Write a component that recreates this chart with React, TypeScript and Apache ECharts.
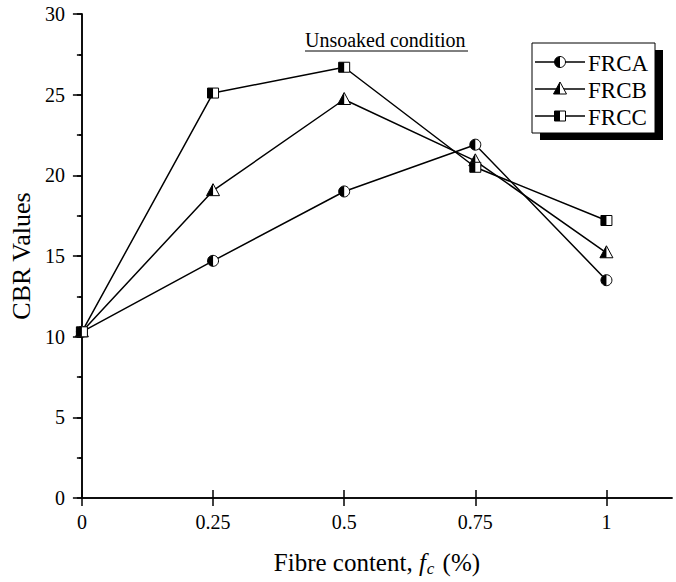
import React, { useEffect, useRef } from "react";
import * as echarts from "echarts";

const fibreContent = [0, 0.25, 0.5, 0.75, 1];
const frcaValues = [10.3, 14.7, 19.0, 21.9, 13.5];
const frcbValues = [10.3, 19.05, 24.7, 20.9, 15.2];
const frccValues = [10.3, 25.1, 26.7, 20.5, 17.2];
const xTickValues = [0, 0.25, 0.5, 0.75, 1];
const seriesNames = ["FRCA", "FRCB", "FRCC"];

const FONT = "Liberation Serif";

function markerShapes(kind: string, z?: number): any[] {
  let shapes: any[];
  if (kind === "circle") {
    shapes = [
      { type: "circle", shape: { cx: 0, cy: 0, r: 5.5 }, style: { fill: "#fff", stroke: "#000", lineWidth: 1 } },
      {
        type: "sector",
        shape: { cx: 0, cy: 0, r0: 0, r: 5.5, startAngle: Math.PI / 2, endAngle: Math.PI * 1.5, clockwise: true },
        style: { fill: "#000" },
      },
    ];
  } else if (kind === "triangle") {
    shapes = [
      {
        type: "polygon",
        shape: { points: [[0, -7], [-6.5, 5], [6.5, 5]] },
        style: { fill: "#fff", stroke: "#000", lineWidth: 1 },
      },
      { type: "polygon", shape: { points: [[0, -7], [-6.5, 5], [0, 5]] }, style: { fill: "#000" } },
    ];
  } else {
    shapes = [
      { type: "rect", shape: { x: -5.5, y: -5, width: 11, height: 10 }, style: { fill: "#fff", stroke: "#000", lineWidth: 1 } },
      { type: "rect", shape: { x: -5.5, y: -5, width: 5.5, height: 10 }, style: { fill: "#000" } },
    ];
  }
  if (z !== undefined) shapes = shapes.map((s, k) => ({ ...s, z: z + k }));
  return shapes;
}

const kinds = ["circle", "triangle", "square"];
const allValues = [frcaValues, frcbValues, frccValues];

export default function App() {
  const ref = useRef<HTMLDivElement>(null);
  useEffect(() => {
    if (!ref.current) return;
    const chart = echarts.init(ref.current, null, { renderer: "svg" });

    const lineSeries = allValues.map((vals, i) => ({
      name: seriesNames[i],
      type: "line",
      data: fibreContent.map((x, j) => [x, vals[j]]),
      symbol: "none",
      lineStyle: { color: "#000", width: 1.5 },
      z: 2,
    }));
    const markerSeries = allValues.map((vals, i) => ({
      name: seriesNames[i] + " markers",
      type: "custom",
      data: fibreContent.map((x, j) => [x, vals[j]]),
      encode: { x: 0, y: 1 },
      z: 3 + i,
      renderItem: (params: any, api: any) => {
        const p = api.coord([api.value(0), api.value(1)]);
        return { type: "group", x: p[0], y: p[1], children: markerShapes(kinds[i]) };
      },
    }));

    const legendX = 532;
    const legendY = 43;
    const legendRows = [62, 89, 116];
    const legendItems: any[] = [];
    seriesNames.forEach((name, i) => {
      legendItems.push({
        type: "line",
        shape: { x1: 535, y1: legendRows[i], x2: 585, y2: legendRows[i] },
        style: { stroke: "#000", lineWidth: 1.5 },
        z: 101,
      });
      markerShapes(kinds[i], 102).forEach((s) => {
        legendItems.push({ ...s, x: 560, y: legendRows[i] });
      });
      legendItems.push({
        type: "text",
        x: 588,
        y: legendRows[i] + 1,
        style: { text: name, font: `23px "${FONT}"`, fill: "#000", verticalAlign: "middle", textAlign: "left" },
        z: 102,
      });
    });

    const axisCommonLine = { show: true, lineStyle: { color: "#000", width: 1.5 } };

    chart.setOption({
      animation: false,
      textStyle: { fontFamily: FONT, color: "#000" },
      title: {
        text: "Unsoaked condition",
        left: 305,
        top: 30,
        textStyle: { fontFamily: FONT, fontSize: 20, fontWeight: "normal", color: "#000" },
        padding: 0,
      },
      grid: { left: 73, right: 4, top: 14, bottom: 80, containLabel: false },
      xAxis: [
        {
          type: "value",
          position: "bottom",
          min: 0,
          max: 1.125,
          interval: 0.25,
          axisLine: axisCommonLine,
          axisTick: { show: true, length: 8, customValues: xTickValues, lineStyle: { color: "#000", width: 1.5 } },
          axisLabel: { customValues: xTickValues, fontSize: 20, fontFamily: FONT, color: "#000", margin: 14 },
          splitLine: { show: false },
          name: "{n|Fibre content, }{i|f}{s|c}{n| (%)}",
          nameLocation: "middle",
          nameGap: 50,
          nameTextStyle: {
            rich: {
              n: { fontFamily: FONT, fontSize: 25, color: "#000" },
              i: { fontFamily: FONT, fontSize: 25, fontStyle: "italic", color: "#000" },
              s: { fontFamily: FONT, fontSize: 17, fontStyle: "italic", color: "#000", padding: [12, 2, 0, 1] },
            },
          },
        },
        {
          type: "value",
          position: "top",
          min: 0,
          max: 1.125,
          interval: 0.25,
          axisLine: axisCommonLine,
          axisTick: { show: true, length: 8, customValues: xTickValues, lineStyle: { color: "#000", width: 1.5 } },
          axisLabel: { show: false },
          splitLine: { show: false },
        },
      ],
      yAxis: [
        {
          type: "value",
          position: "left",
          min: 0,
          max: 30,
          interval: 5,
          axisLine: axisCommonLine,
          axisTick: { show: true, length: 9, lineStyle: { color: "#000", width: 1.5 } },
          minorTick: { show: true, splitNumber: 2, length: 5, lineStyle: { color: "#000", width: 1.5 } },
          axisLabel: { fontSize: 20, fontFamily: FONT, color: "#000", margin: 17 },
          splitLine: { show: false },
          minorSplitLine: { show: false },
          name: "CBR Values",
          nameLocation: "middle",
          nameGap: 47,
          nameTextStyle: { fontFamily: FONT, fontSize: 26, color: "#000" },
        },
        {
          type: "value",
          position: "right",
          min: 0,
          max: 30,
          interval: 5,
          axisLine: axisCommonLine,
          axisTick: { show: true, inside: true, length: 5, lineStyle: { color: "#000", width: 1.5 } },
          minorTick: { show: true, splitNumber: 2, length: 3, lineStyle: { color: "#000", width: 1.5 } },
          axisLabel: { show: false },
          splitLine: { show: false },
          minorSplitLine: { show: false },
        },
      ],
      series: [...lineSeries, ...markerSeries],
      graphic: [
        {
          type: "line",
          shape: { x1: 305, y1: 51, x2: 468, y2: 51 },
          style: { stroke: "#000", lineWidth: 1 },
        },
        {
          type: "rect",
          shape: { x: legendX + 8, y: legendY + 7, width: 123, height: 90 },
          style: { fill: "#000" },
          z: 99,
        },
        {
          type: "rect",
          shape: { x: legendX, y: legendY, width: 123, height: 90 },
          style: { fill: "#fff", stroke: "#000", lineWidth: 1 },
          z: 100,
        },
        ...legendItems,
      ],
    });
    return () => chart.dispose();
  }, []);

  return (
    <div
      ref={ref}
      style={{ position: "fixed", left: 0, top: 0, width: 676, height: 582, background: "#fff" }}
    />
  );
}
